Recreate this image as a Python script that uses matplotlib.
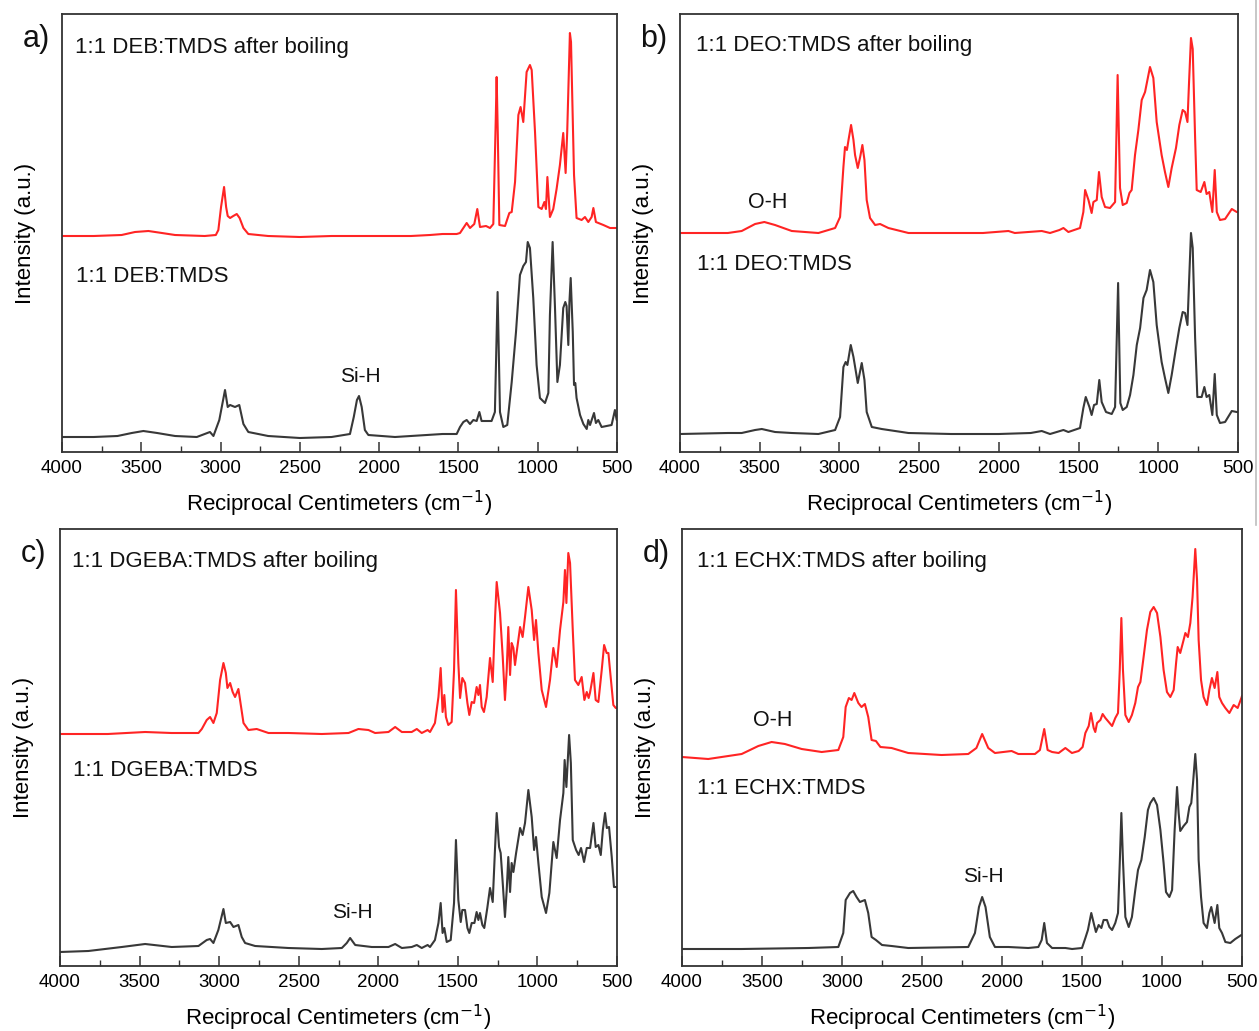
import matplotlib
matplotlib.use("Agg")
import matplotlib.pyplot as plt
from matplotlib.lines import Line2D
from matplotlib.ticker import MultipleLocator

plt.rcParams["font.family"] = ["Liberation Sans", "DejaVu Sans"]

RED = "#ff2424"
DARK = "#383838"

# FTIR spectra as (wavenumber cm-1, intensity a.u.) pairs, traced by hand.
# a) DEB:TMDS
deb_boiled = [
    (4000, 216), (3800, 216), (3624, 217), (3540, 220), (3455, 221), (3370, 219),
    (3287, 217), (3100, 216), (3030, 217), (3014, 222), (2997, 245), (2978, 265),
    (2965, 245), (2955, 236), (2940, 234), (2920, 236), (2898, 238), (2880, 234),
    (2856, 224), (2825, 218), (2700, 216), (2500, 215), (2300, 216), (2000, 216),
    (1800, 216), (1679, 217), (1600, 218), (1511, 218), (1490, 219), (1448, 229),
    (1427, 224), (1400, 228), (1381, 243), (1364, 225), (1326, 226), (1301, 224),
    (1280, 228), (1265, 330), (1259, 375), (1252, 320), (1242, 227), (1206, 226),
    (1179, 239), (1164, 240), (1143, 270), (1122, 337), (1108, 345), (1091, 330),
    (1070, 380), (1049, 387), (1038, 382), (1017, 320), (996, 245), (975, 243),
    (958, 250), (948, 243), (939, 275), (931, 255), (923, 235), (902, 243),
    (881, 263), (860, 287), (839, 319), (824, 279), (814, 320), (797, 419),
    (790, 410), (771, 277), (755, 234), (723, 232), (702, 235), (681, 230),
    (660, 235), (649, 244), (633, 230), (586, 227), (544, 224), (500, 224),
]
deb_fresh = [
    (4000, 15), (3800, 15), (3650, 16), (3560, 19), (3487, 21), (3400, 19),
    (3287, 16), (3150, 15), (3067, 20), (3045, 16), (3008, 32), (2972, 62),
    (2955, 45), (2940, 47), (2909, 45), (2882, 47), (2856, 28), (2825, 20),
    (2700, 16), (2500, 14), (2300, 15), (2184, 18), (2160, 35), (2140, 52),
    (2127, 56), (2110, 45), (2090, 22), (2068, 17), (1900, 15), (1700, 17),
    (1600, 18), (1511, 18), (1490, 25), (1469, 30), (1448, 32), (1427, 28),
    (1406, 32), (1385, 31), (1368, 40), (1354, 31), (1291, 31), (1270, 40),
    (1253, 160), (1238, 40), (1217, 25), (1192, 27), (1164, 70), (1137, 120),
    (1112, 177), (1091, 186), (1074, 190), (1063, 210), (1049, 204), (1028, 154),
    (1007, 87), (986, 54), (954, 49), (933, 59), (923, 137), (906, 210),
    (891, 144), (876, 70), (860, 87), (839, 144), (826, 150), (818, 146),
    (807, 107), (800, 150), (792, 174), (779, 120), (771, 67), (763, 69),
    (755, 54), (733, 37), (712, 28), (691, 23), (681, 32), (670, 27),
    (645, 39), (633, 29), (618, 32), (597, 25), (534, 27), (513, 42),
    (502, 32), (500, 32),
]

# b) DEO:TMDS
deo_boiled = [
    (4000, 219), (3700, 219), (3613, 221), (3529, 228), (3471, 230), (3404, 227),
    (3299, 221), (3132, 219), (3027, 224), (2996, 235), (2975, 285), (2965, 305),
    (2953, 302), (2942, 313), (2927, 327), (2912, 312), (2902, 297), (2885, 284),
    (2870, 295), (2856, 307), (2843, 292), (2829, 252), (2808, 234), (2776, 227),
    (2745, 228), (2693, 224), (2567, 219), (2300, 219), (2100, 219), (1940, 221),
    (1900, 219), (1731, 221), (1679, 219), (1620, 222), (1595, 224), (1564, 220),
    (1491, 224), (1470, 240), (1459, 262), (1438, 252), (1418, 239), (1407, 250),
    (1386, 252), (1372, 280), (1355, 255), (1334, 245), (1303, 244), (1271, 250),
    (1255, 377), (1240, 264), (1223, 247), (1198, 249), (1181, 259), (1167, 262),
    (1146, 297), (1125, 322), (1104, 352), (1083, 360), (1052, 385), (1031, 374),
    (1010, 330), (979, 297), (958, 280), (937, 265), (916, 284), (889, 304),
    (868, 327), (847, 342), (832, 340), (817, 330), (807, 370), (795, 414),
    (784, 403), (769, 314), (759, 262), (734, 260), (711, 270), (697, 258),
    (680, 260), (661, 240), (646, 282), (633, 240), (613, 232), (581, 233),
    (539, 243), (508, 240), (500, 240),
]
deo_fresh = [
    (4000, 18), (3700, 19), (3613, 19), (3529, 22), (3487, 23), (3404, 20),
    (3299, 19), (3132, 18), (3027, 22), (2996, 35), (2975, 85), (2961, 90),
    (2950, 87), (2929, 107), (2912, 95), (2885, 69), (2860, 89), (2843, 72),
    (2829, 40), (2797, 25), (2735, 23), (2567, 19), (2300, 18), (2000, 18),
    (1800, 19), (1731, 21), (1679, 18), (1595, 22), (1564, 20), (1491, 24),
    (1470, 44), (1455, 55), (1432, 45), (1418, 37), (1403, 47), (1386, 48),
    (1370, 72), (1355, 50), (1328, 40), (1292, 38), (1271, 45), (1252, 169),
    (1238, 49), (1223, 42), (1198, 45), (1177, 57), (1156, 77), (1135, 107),
    (1114, 124), (1093, 154), (1073, 162), (1052, 182), (1031, 170), (1010, 127),
    (979, 90), (958, 74), (937, 59), (916, 77), (889, 104), (868, 124),
    (847, 140), (832, 139), (817, 127), (807, 170), (795, 219), (784, 204),
    (769, 114), (755, 55), (728, 55), (711, 65), (697, 55), (680, 57),
    (661, 37), (646, 78), (633, 37), (613, 29), (581, 30), (539, 41),
    (508, 40), (500, 40),
]

# c) DGEBA:TMDS
dgeba_boiled = [
    (4000, 232), (3700, 232), (3465, 234), (3300, 233), (3130, 233), (3109, 237),
    (3078, 246), (3057, 249), (3036, 243), (3015, 253), (2994, 286), (2973, 303),
    (2958, 293), (2948, 278), (2931, 283), (2915, 274), (2900, 269), (2879, 277),
    (2862, 259), (2847, 243), (2816, 236), (2764, 237), (2690, 233), (2565, 233),
    (2355, 232), (2187, 233), (2125, 237), (2062, 236), (2020, 233), (1936, 234),
    (1894, 239), (1852, 234), (1790, 234), (1758, 237), (1727, 233), (1690, 236),
    (1675, 234), (1644, 243), (1622, 269), (1608, 298), (1596, 254), (1585, 271),
    (1575, 249), (1560, 241), (1539, 244), (1524, 296), (1512, 376), (1497, 303),
    (1486, 268), (1472, 288), (1455, 283), (1440, 263), (1428, 251), (1413, 264),
    (1398, 263), (1382, 279), (1371, 271), (1361, 281), (1350, 259), (1336, 254),
    (1319, 269), (1298, 308), (1281, 284), (1266, 349), (1256, 384), (1235, 353),
    (1218, 309), (1204, 266), (1193, 296), (1183, 339), (1172, 291), (1162, 323),
    (1151, 318), (1141, 301), (1126, 319), (1109, 339), (1093, 329), (1078, 349),
    (1057, 379), (1036, 356), (1021, 326), (1009, 346), (994, 313), (973, 276),
    (946, 259), (921, 286), (900, 318), (879, 299), (858, 336), (837, 364),
    (827, 396), (818, 363), (806, 413), (795, 403), (778, 336), (764, 286),
    (743, 281), (722, 289), (705, 266), (690, 274), (678, 268), (670, 273),
    (648, 293), (634, 266), (617, 264), (596, 296), (581, 321), (565, 313),
    (554, 313), (544, 296), (523, 261), (508, 258), (500, 258),
]
dgeba_fresh = [
    (4000, 14), (3822, 15), (3612, 19), (3465, 22), (3298, 19), (3130, 20),
    (3078, 26), (3057, 27), (3036, 23), (3005, 36), (2973, 57), (2958, 43),
    (2931, 44), (2910, 39), (2879, 41), (2858, 29), (2837, 23), (2774, 20),
    (2565, 18), (2355, 17), (2229, 18), (2198, 23), (2177, 28), (2145, 21),
    (2041, 19), (1936, 19), (1894, 22), (1852, 18), (1790, 19), (1758, 21),
    (1727, 18), (1690, 21), (1675, 19), (1644, 26), (1622, 43), (1608, 63),
    (1596, 33), (1585, 38), (1570, 24), (1545, 26), (1524, 63), (1512, 126),
    (1497, 66), (1482, 44), (1472, 56), (1455, 56), (1440, 38), (1428, 33),
    (1413, 43), (1396, 43), (1382, 54), (1371, 46), (1361, 53), (1346, 41),
    (1334, 38), (1315, 58), (1298, 78), (1281, 64), (1266, 119), (1256, 153),
    (1241, 119), (1231, 113), (1218, 83), (1204, 49), (1193, 76), (1183, 109),
    (1172, 74), (1162, 103), (1151, 94), (1134, 113), (1109, 138), (1093, 131),
    (1078, 143), (1057, 176), (1036, 149), (1021, 116), (1009, 129), (994, 103),
    (973, 69), (946, 53), (925, 73), (900, 124), (879, 108), (858, 146),
    (837, 173), (829, 206), (818, 179), (801, 231), (790, 203), (778, 126),
    (757, 116), (741, 111), (726, 118), (707, 104), (690, 118), (669, 118),
    (648, 143), (634, 119), (617, 121), (602, 111), (589, 136), (575, 153),
    (564, 138), (550, 139), (533, 109), (519, 79), (500, 79),
]

# d) ECHX:TMDS
echx_boiled = [
    (4000, 209), (3836, 207), (3627, 212), (3523, 220), (3440, 224), (3357, 222),
    (3252, 217), (3127, 214), (3023, 216), (2992, 229), (2977, 259), (2957, 268),
    (2940, 266), (2923, 273), (2898, 263), (2878, 259), (2857, 262), (2836, 249),
    (2815, 226), (2788, 225), (2760, 219), (2690, 218), (2586, 213), (2378, 211),
    (2211, 212), (2160, 218), (2124, 232), (2086, 218), (2044, 213), (1940, 215),
    (1898, 212), (1794, 212), (1763, 216), (1736, 237), (1715, 216), (1687, 214),
    (1646, 213), (1604, 218), (1563, 213), (1521, 215), (1496, 219), (1479, 233),
    (1458, 240), (1444, 253), (1427, 238), (1417, 234), (1406, 243), (1385, 246),
    (1371, 252), (1354, 248), (1333, 244), (1312, 240), (1292, 248), (1275, 253),
    (1264, 296), (1254, 348), (1244, 296), (1229, 251), (1208, 244), (1188, 251),
    (1167, 263), (1150, 279), (1135, 284), (1115, 309), (1094, 336), (1073, 354),
    (1052, 359), (1031, 353), (1010, 329), (990, 296), (969, 274), (948, 269),
    (927, 276), (912, 303), (902, 319), (886, 313), (865, 326), (854, 333),
    (838, 329), (823, 343), (809, 369), (792, 417), (781, 386), (771, 326),
    (756, 286), (740, 269), (719, 261), (704, 276), (688, 288), (671, 278),
    (654, 294), (642, 269), (625, 263), (604, 258), (579, 253), (552, 261),
    (527, 258), (504, 268), (500, 270),
]
echx_fresh = [
    (4000, 17), (3627, 17), (3210, 18), (3023, 19), (2992, 33), (2977, 66),
    (2950, 73), (2930, 75), (2909, 69), (2888, 64), (2857, 66), (2836, 53),
    (2815, 29), (2788, 26), (2750, 21), (2690, 20), (2586, 18), (2211, 19),
    (2169, 33), (2144, 59), (2124, 69), (2103, 59), (2076, 29), (2044, 19),
    (1960, 19), (1836, 18), (1773, 19), (1752, 26), (1736, 43), (1719, 23),
    (1687, 18), (1604, 18), (1562, 17), (1500, 18), (1479, 28), (1463, 36),
    (1442, 53), (1427, 43), (1413, 34), (1396, 41), (1379, 38), (1365, 46),
    (1344, 46), (1329, 39), (1312, 36), (1292, 43), (1275, 53), (1264, 103),
    (1254, 153), (1244, 106), (1229, 49), (1208, 39), (1188, 49), (1167, 76),
    (1150, 96), (1129, 106), (1108, 129), (1088, 156), (1073, 163), (1052, 168),
    (1031, 161), (1010, 136), (990, 103), (975, 74), (954, 69), (937, 76),
    (921, 136), (906, 179), (896, 153), (886, 135), (865, 140), (844, 144),
    (829, 159), (817, 163), (806, 183), (792, 212), (781, 186), (771, 106),
    (756, 69), (740, 43), (719, 38), (704, 53), (692, 59), (671, 43),
    (654, 61), (642, 38), (625, 33), (604, 24), (573, 23), (542, 27),
    (504, 31), (500, 31),
]

FIG_W, FIG_H = 1259, 1031

# panel: (letter, box in pixels (left, top, right, bottom), boiled, fresh, texts)
panels = [
    ("a)", (62, 14, 617, 452), deb_boiled, deb_fresh,
     [("1:1 DEB:TMDS after boiling", 3918, 405, "left", 16),
      ("1:1 DEB:TMDS", 3912, 176, "left", 16),
      ("Si-H", 2121, 76, "center", 15)]),
    ("b)", (680, 14, 1238, 452), deo_boiled, deo_fresh,
     [("1:1 DEO:TMDS after boiling", 3900, 407, "left", 16),
      ("O-H", 3448, 249, "center", 15.5),
      ("1:1 DEO:TMDS", 3893, 188, "left", 16)]),
    ("c)", (60, 529, 617, 966), dgeba_boiled, dgeba_fresh,
     [("1:1 DGEBA:TMDS after boiling", 3925, 405, "left", 16),
      ("1:1 DGEBA:TMDS", 3918, 196, "left", 16),
      ("Si-H", 2165, 53, "center", 15)]),
    ("d)", (682, 529, 1242, 966), echx_boiled, echx_fresh,
     [("1:1 ECHX:TMDS after boiling", 3906, 405, "left", 16),
      ("O-H", 3431, 245, "center", 15.5),
      ("1:1 ECHX:TMDS", 3906, 177, "left", 16),
      ("Si-H", 2119, 90, "center", 15)]),
]

fig = plt.figure(figsize=(FIG_W / 100, FIG_H / 100), dpi=100)

for letter, (l, t, r, b), boiled, fresh, texts in panels:
    ax = fig.add_axes([l / FIG_W, 1 - b / FIG_H, (r - l) / FIG_W, (b - t) / FIG_H])
    wn, inten = zip(*boiled)
    ax.plot(wn, inten, color=RED, lw=1.5)
    wn, inten = zip(*fresh)
    ax.plot(wn, inten, color=DARK, lw=1.5)

    ax.set_xlim(4000, 500)
    ax.set_ylim(0, b - t)
    ax.xaxis.set_major_locator(MultipleLocator(500))
    ax.xaxis.set_minor_locator(MultipleLocator(250))
    ax.tick_params(axis="x", which="both", direction="in", colors="#333333",
                   labelcolor="black", labelsize=13.5, pad=6)
    ax.tick_params(axis="x", which="major", length=7, width=1.1)
    ax.tick_params(axis="x", which="minor", length=4, width=1.0)
    ax.set_yticks([])
    for sp in ax.spines.values():
        sp.set_color("#333333")
        sp.set_linewidth(1.3)

    ax.set_xlabel("Reciprocal Centimeters (cm$^{-1}$)", fontsize=16, va="center")
    ax.xaxis.set_label_coords(0.5, -0.119)
    ax.set_ylabel("Intensity (a.u.)", fontsize=16, va="center")
    ax.yaxis.set_label_coords(-37 / (r - l), 0.5)

    for s, x, y, ha, fs in texts:
        ax.text(x, y, s, ha=ha, va="center", fontsize=fs, color="#111111")

    fig.text((l - 26) / FIG_W, 1 - (t + 25) / FIG_H, letter, fontsize=22,
             ha="center", va="center", color="#111111")

# thin border line along the right edge of the upper row
fig.add_artist(Line2D([1256 / FIG_W, 1256 / FIG_W], [1 - 525 / FIG_H, 1.0],
                      color="#bdbdbd", lw=1.2))

fig.savefig("out.png", dpi=100)
